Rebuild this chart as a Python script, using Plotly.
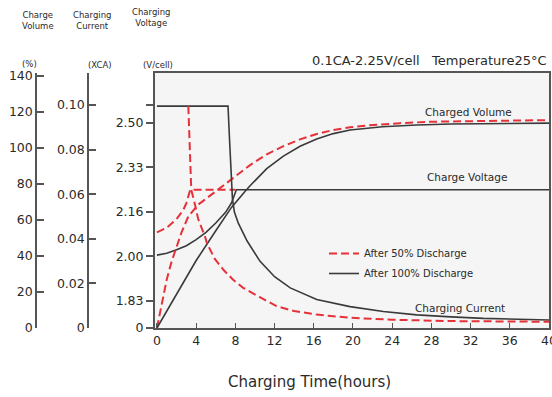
import plotly.graph_objects as go

W, H = 552, 397

# ---------------- data ----------------
hours_ticks = [0, 4, 8, 12, 16, 20, 24, 28, 32, 36, 40]

# Charged volume (%)
vol100_t = [0, 2, 4, 6, 7.6, 9, 9.5, 11.2, 12.9, 14.6, 16.3, 18, 19.7, 23, 26.5, 30, 35, 40]
vol100 = [0, 19, 37.5, 54, 67, 76, 79, 88.5, 95.5, 101, 105, 108, 110, 111.8, 112.8, 113.3, 113.6, 113.8]
vol50_t = [0, 0.5, 1, 1.5, 2, 2.5, 3.2, 4.2, 5.9, 7.6, 9.5, 11.2, 12.9, 14.6, 16.3, 18, 19.7, 21.4, 24.8, 28, 32, 40]
vol50 = [0, 13, 27, 37, 45, 53, 62, 68.5, 75.5, 82.5, 90.5, 96.5, 101, 104.8, 107.8, 110, 111.5, 112.5, 113.8, 114.6, 115, 115.5]

# Charge voltage (V/cell)
volt100_t = [0, 1, 2, 3, 4, 5, 6, 7, 7.6, 8.1, 40]
volt100 = [2.005, 2.012, 2.025, 2.04, 2.063, 2.09, 2.125, 2.165, 2.2, 2.25, 2.25]
volt50_t = [0, 1, 2, 2.7, 3.0, 3.4, 8]
volt50 = [2.09, 2.108, 2.14, 2.175, 2.2, 2.25, 2.25]

# Charging current (x CA)
cur100_t = [0, 7.25, 7.4, 7.55, 7.7, 7.9, 8.3, 9.2, 10.5, 12, 13.6, 16.3, 19.7, 23.1, 26.5, 30, 33.3, 40]
cur100 = [0.0995, 0.0995, 0.085, 0.068, 0.058, 0.052, 0.047, 0.039, 0.030, 0.023, 0.018, 0.0128, 0.0096, 0.0074, 0.0059, 0.005, 0.0043, 0.0036]
cur50_t = [3.2, 3.3, 3.4, 3.5, 3.9, 4.2, 4.9, 5.1, 5.9, 6.8, 7.8, 8.8, 10.5, 12.2, 14, 16.3, 19.7, 24, 30, 40]
cur50 = [0.0995, 0.085, 0.07, 0.062, 0.055, 0.049, 0.041, 0.038, 0.031, 0.026, 0.0215, 0.018, 0.0138, 0.0098, 0.0076, 0.006, 0.0046, 0.0037, 0.0031, 0.0028]

pct_ticks = [0, 20, 40, 60, 80, 100, 120, 140]
cur_ticks = [0, 0.02, 0.04, 0.06, 0.08, 0.10]
cur_labels = ["0", "0.02", "0.04", "0.06", "0.08", "0.10"]
volt_ticks = [1.732, 1.8333, 2.0, 2.1667, 2.3333, 2.5, 2.567]
volt_labels = ["0", "1.83", "2.00", "2.16", "2.33", "2.50", ""]

# ---------------- styling ----------------
RED = "#e5323a"
DARK = "#3a3a3a"
AX = "#555555"
TXT = "#2a2a2a"
FONT = "DejaVu Sans"


def px(x):
    return x / W


def py(y):
    return 1 - y / H


fig = go.Figure()

red = dict(color=RED, width=2, dash="8px,4px")
blk = dict(color=DARK, width=1.6)

# voltage (main y axis)
fig.add_trace(go.Scatter(x=volt100_t, y=volt100, mode="lines", line=blk, yaxis="y", showlegend=False))
fig.add_trace(go.Scatter(x=volt50_t, y=volt50, mode="lines", line=red, yaxis="y", showlegend=False))
# current
fig.add_trace(go.Scatter(x=cur100_t, y=cur100, mode="lines", line=blk, yaxis="y3", showlegend=False))
fig.add_trace(go.Scatter(x=cur50_t, y=cur50, mode="lines", line=red, yaxis="y3", showlegend=False))
# volume (carry legend)
fig.add_trace(go.Scatter(x=vol50_t, y=vol50, mode="lines", line=red, yaxis="y2",
                         name="After 50% Discharge", legendgroup="a"))
fig.add_trace(go.Scatter(x=vol100_t, y=vol100, mode="lines", line=blk, yaxis="y2",
                         name="After 100% Discharge", legendgroup="b"))

dom_y = [py(328), py(73)]
TF = dict(size=12.5, color=TXT)

fig.update_layout(
    width=W, height=H,
    margin=dict(l=0, r=0, t=0, b=0, autoexpand=False),
    paper_bgcolor="white",
    plot_bgcolor="#f5f5f5",
    font=dict(family=FONT, color=TXT, size=12),
    xaxis=dict(
        domain=[px(155), px(549)], range=[-0.2, 40],
        tickvals=hours_ticks, ticks="inside", ticklen=5, tickcolor=AX, tickwidth=1.2,
        showline=True, linecolor=AX, linewidth=2, mirror=True,
        showgrid=False, zeroline=False, tickfont=TF, ticklabeloverflow="allow",
    ),
    yaxis=dict(
        domain=dom_y, range=[1.732, 2.687],
        tickvals=volt_ticks, ticktext=volt_labels,
        ticks="outside", ticklen=7, tickcolor=AX, tickwidth=1.5,
        showline=True, linecolor=AX, linewidth=2, mirror=True,
        showgrid=False, zeroline=False, tickfont=TF,
    ),
    yaxis2=dict(
        overlaying="y", anchor="free", position=px(36), side="left",
        range=[0, 141.67], tickvals=pct_ticks,
        ticks="inside", ticklen=7, tickcolor=AX, tickwidth=1.5,
        showline=True, linecolor=AX, linewidth=1.5,
        showgrid=False, zeroline=False, tickfont=TF,
    ),
    yaxis3=dict(
        overlaying="y", anchor="free", position=px(88), side="left",
        range=[0, 0.11435], tickvals=cur_ticks, ticktext=cur_labels,
        ticks="inside", ticklen=7, tickcolor=AX, tickwidth=1.5,
        showline=True, linecolor=AX, linewidth=1.5,
        showgrid=False, zeroline=False, tickfont=TF,
    ),
    legend=dict(
        x=px(324), y=py(239), xanchor="left", yanchor="top",
        bgcolor="rgba(0,0,0,0)", font=dict(size=10, color=TXT),
        tracegroupgap=1,
    ),
)

ann = [
    ("Charge<br>Volume", 38, 21, 8.5),
    ("Charging<br>Current", 92, 21, 8.5),
    ("Charging<br>Voltage", 151, 18, 8.5),
    ("(%)", 29, 64, 8.5),
    ("(XCA)", 100, 65, 8.5),
    ("(V/cell)", 158, 65, 8.5),
    ("0.1CA-2.25V/cell   Temperature25\u00b0C", 429, 60, 13),
    ("Charged Volume", 468, 112, 10.5),
    ("Charge Voltage", 467, 177, 10.5),
    ("Charging Current", 460, 308, 10.5),
    ("Charging Time(hours)", 309, 382, 15),
]
for text, x, y, s in ann:
    fig.add_annotation(text=text, x=px(x), y=py(y), xref="paper", yref="paper",
                       showarrow=False, xanchor="center", yanchor="middle",
                       font=dict(size=s, color=TXT))

fig.write_html("out.html",
               config={"displayModeBar": False},
               post_script="document.body.style.margin='0';document.body.style.overflow='hidden';")
